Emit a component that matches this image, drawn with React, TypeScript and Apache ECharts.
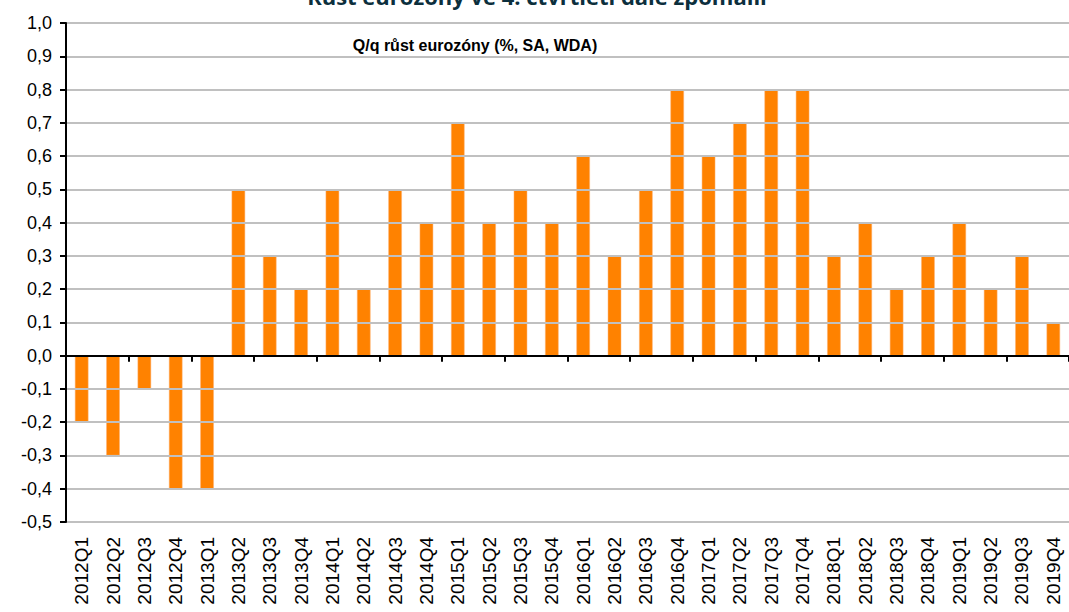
import React, { useEffect, useRef } from "react";
import * as echarts from "echarts";

const categories = [
  "2012Q1", "2012Q2", "2012Q3", "2012Q4",
  "2013Q1", "2013Q2", "2013Q3", "2013Q4",
  "2014Q1", "2014Q2", "2014Q3", "2014Q4",
  "2015Q1", "2015Q2", "2015Q3", "2015Q4",
  "2016Q1", "2016Q2", "2016Q3", "2016Q4",
  "2017Q1", "2017Q2", "2017Q3", "2017Q4",
  "2018Q1", "2018Q2", "2018Q3", "2018Q4",
  "2019Q1", "2019Q2", "2019Q3", "2019Q4",
];

const growth = [
  -0.2, -0.3, -0.1, -0.4,
  -0.4, 0.5, 0.3, 0.2,
  0.5, 0.2, 0.5, 0.4,
  0.7, 0.4, 0.5, 0.4,
  0.6, 0.3, 0.5, 0.8,
  0.6, 0.7, 0.8, 0.8,
  0.3, 0.4, 0.2, 0.3,
  0.4, 0.2, 0.3, 0.1,
];

const titleText = "Růst eurozóny ve 4. čtvrtletí dále zpomalil";
const subtitleText = "Q/q růst eurozóny (%, SA, WDA)";

export default function App() {
  const ref = useRef<HTMLDivElement>(null);

  useEffect(() => {
    if (!ref.current) return;
    const chart = echarts.init(ref.current, undefined, { renderer: "svg" });
    chart.setOption({
      animation: false,
      backgroundColor: "#ffffff",
      grid: { left: 66, right: 0, top: 23, bottom: 90, containLabel: false },
      graphic: [
        {
          type: "text",
          x: 537,
          y: 7,
          style: {
            text: titleText,
            fill: "#0c2f3d",
            font: "bold 22px 'Open Sans', 'Liberation Sans', sans-serif",
            textAlign: "center",
            textVerticalAlign: "bottom",
          },
          z: 10,
        },
        {
          type: "text",
          x: 475,
          y: 45,
          style: {
            text: subtitleText,
            fill: "#000000",
            font: "bold 16px 'Liberation Sans', Arial, sans-serif",
            textAlign: "center",
            textVerticalAlign: "middle",
          },
          z: 10,
        },
      ],
      xAxis: [
        {
          type: "category",
          data: categories,
          position: "bottom",
          axisLine: { show: false, onZero: false },
          axisTick: { show: false },
          axisLabel: {
            rotate: 90,
            margin: 15,
            color: "#000000",
            fontSize: 19,
            fontFamily: "'Liberation Sans', Arial, sans-serif",
            interval: 0,
          },
          splitLine: { show: false },
        },
        {
          type: "category",
          data: categories,
          position: "bottom",
          axisLine: { show: true, onZero: true, lineStyle: { color: "#000000", width: 2 } },
          axisTick: { show: true, length: 6, lineStyle: { color: "#000000", width: 2 } },
          axisLabel: { show: false },
          splitLine: { show: false },
          z: 5,
        },
      ],
      yAxis: {
        type: "value",
        min: -0.5,
        max: 1.0,
        interval: 0.1,
        axisLine: { show: true, lineStyle: { color: "#000000", width: 2 } },
        axisTick: { show: true, length: 6, lineStyle: { color: "#000000", width: 2 } },
        axisLabel: {
          margin: 14,
          color: "#000000",
          fontSize: 18,
          fontFamily: "'Liberation Sans', Arial, sans-serif",
          formatter: (v: number) => v.toFixed(1).replace(".", ","),
        },
        splitLine: { show: true, lineStyle: { color: "#c0c0c0", width: 2 } },
        z: 4,
      },
      series: [
        {
          type: "bar",
          data: growth,
          xAxisIndex: 0,
          barWidth: "43%",
          itemStyle: { color: "#ff8200", borderColor: "#ffb070", borderWidth: 0.5 },
          z: 3,
        },
      ],
    });
    return () => chart.dispose();
  }, []);

  return (
    <div
      ref={ref}
      style={{ position: "fixed", left: 0, top: 0, width: 1069, height: 612 }}
    />
  );
}
